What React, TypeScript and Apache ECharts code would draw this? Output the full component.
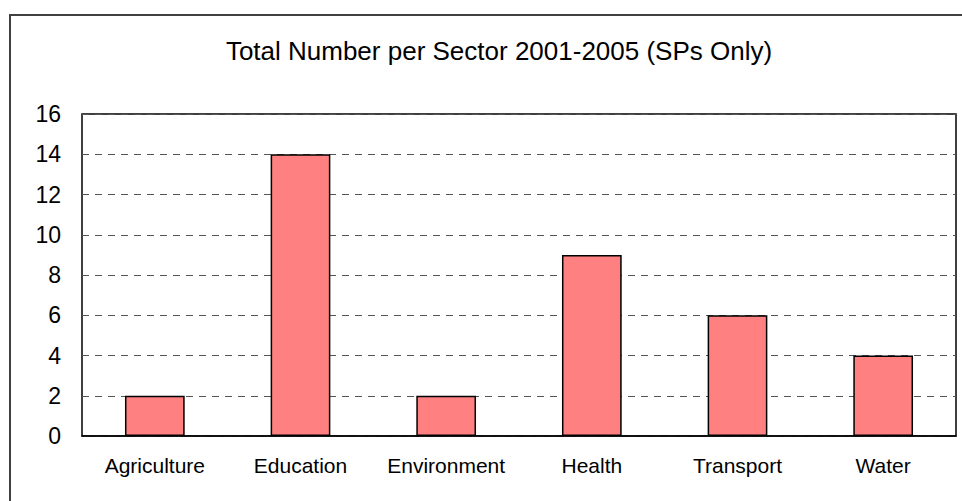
import React, { useEffect, useRef } from "react";
import * as echarts from "echarts";

const categories = ["Agriculture", "Education", "Environment", "Health", "Transport", "Water"];
const values = [2, 14, 2, 9, 6, 4];
const titleText = "Total Number per Sector 2001-2005 (SPs Only)";

export default function App() {
  const ref = useRef<HTMLDivElement>(null);
  useEffect(() => {
    if (!ref.current) return;
    const chart = echarts.init(ref.current, null, { renderer: "svg" });
    chart.setOption({
      animation: false,
      backgroundColor: "#ffffff",
      textStyle: { fontFamily: "Liberation Sans, Arial, sans-serif" },
      title: {
        text: titleText,
        left: 494,
        top: 33,
        textAlign: "center",
        textStyle: { fontSize: 26, fontWeight: "normal", color: "#000", fontFamily: "Liberation Sans, Arial, sans-serif" },
      },
      graphic: [
        {
          type: "rect",
          shape: { x: 10, y: 15, width: 1000, height: 1000 },
          style: { fill: "none", stroke: "#404040", lineWidth: 2 },
          silent: true,
          z: 0,
        },
      ],
      grid: {
        left: 82,
        top: 114,
        right: 6,
        bottom: 65,
        show: true,
        borderColor: "#000",
        borderWidth: 1.5,
        backgroundColor: "transparent",
        containLabel: false,
      },
      xAxis: {
        type: "category",
        data: categories,
        axisLine: { show: true, lineStyle: { color: "#000", width: 1.5 } },
        axisTick: { show: false },
        axisLabel: { color: "#000", fontSize: 21, margin: 19, interval: 0, fontFamily: "Liberation Sans, Arial, sans-serif" },
      },
      yAxis: {
        type: "value",
        min: 0,
        max: 16,
        interval: 2,
        axisLine: { show: false },
        axisTick: { show: false },
        axisLabel: { color: "#000", fontSize: 23, margin: 21, fontFamily: "Liberation Sans, Arial, sans-serif" },
        splitLine: { show: true, lineStyle: { color: "#555", type: [7, 6], width: 1.2 } },
      },
      series: [
        {
          type: "bar",
          data: values,
          barWidth: "41%",
          itemStyle: { color: "#FF8080", borderColor: "#000", borderWidth: 1.5 },
        },
      ],
    });
    return () => chart.dispose();
  }, []);
  return <div ref={ref} style={{ width: 962, height: 501, position: "absolute", left: 0, top: 0 }} />;
}
